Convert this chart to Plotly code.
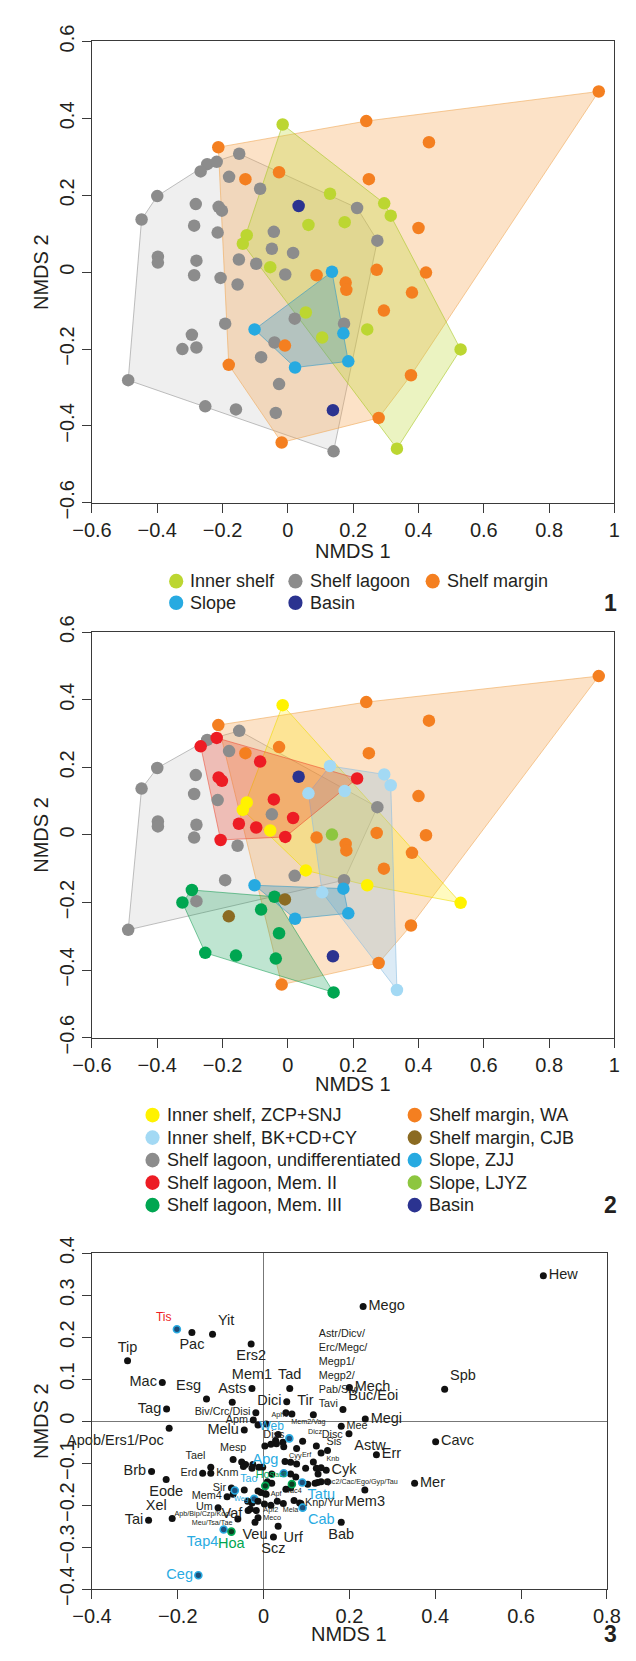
import plotly.graph_objects as go

W, H = 636, 1661
FONT = "Liberation Sans Narrow, Arial Narrow, Liberation Sans, Arial, sans-serif"
TXT = "#231f20"

# ---------------- Panels 1 & 2 : samples ----------------
inner_zcp_x = [-0.016, -0.126, -0.138, -0.054, 0.055, 0.243, 0.529]
inner_zcp_y = [0.384, 0.096, 0.074, 0.013, -0.105, -0.149, -0.201]
inner_bk_x = [0.129, 0.295, 0.315, 0.063, 0.174, 0.105, 0.334]
inner_bk_y = [0.204, 0.179, 0.147, 0.123, 0.130, -0.170, -0.459]

lagoon_undiff_x = [-0.149, -0.247, -0.180, -0.400, -0.282, -0.448, -0.287, -0.215, 0.274, -0.049,
                   -0.398, -0.398, -0.280, -0.287, -0.154, 0.021, -0.192, 0.172, -0.280, -0.489]
lagoon_undiff_y = [0.308, 0.281, 0.248, 0.198, 0.177, 0.137, 0.121, 0.103, 0.082, 0.061,
                   0.040, 0.025, 0.030, -0.008, -0.032, -0.121, -0.134, -0.134, -0.196, -0.281]
lagoon_mem2_x = [-0.218, -0.267, -0.085, -0.212, -0.202, 0.212, -0.043, 0.016, -0.150, -0.097, -0.206, -0.008]
lagoon_mem2_y = [0.287, 0.262, 0.217, 0.170, 0.160, 0.167, 0.105, 0.050, 0.033, 0.022, -0.015, -0.006]
lagoon_mem3_x = [-0.294, -0.323, -0.041, -0.082, -0.027, -0.253, -0.159, -0.037, 0.140]
lagoon_mem3_y = [-0.163, -0.200, -0.183, -0.221, -0.291, -0.349, -0.357, -0.366, -0.466]

margin_wa_x = [0.952, 0.240, 0.432, -0.213, -0.027, -0.130, 0.248, 0.400, 0.272, 0.423,
               0.088, 0.177, 0.179, 0.380, 0.294, 0.377, 0.278, -0.019]
margin_wa_y = [0.470, 0.393, 0.338, 0.325, 0.260, 0.242, 0.242, 0.115, 0.006, -0.001,
               -0.008, -0.027, -0.046, -0.053, -0.100, -0.268, -0.379, -0.443]
margin_cjb_x = [-0.009, -0.181]
margin_cjb_y = [-0.191, -0.241]

slope_zjj_x = [-0.102, 0.170, 0.185, 0.022]
slope_zjj_y = [-0.149, -0.159, -0.232, -0.248]
slope_ljyz_x = [0.135]
slope_ljyz_y = [0.001]

basin_x = [0.033, 0.138]
basin_y = [0.172, -0.359]

# ---------------- Panel 3 : taxa ----------------
taxa_names = ["Hew", "Mego", "Tis", "Pac", "Yit", "Ers2", "Tip", "Mac", "Esg", "Asts", "Tag",
              "Apob/Ers1/Poc", "Mem1", "Tad", "Astr/Dicv/Erc/Megc/Megp1/Megp2/Pab/Siv/Tavi",
              "Mech", "Buc/Eoi", "Megi", "Mee", "Astw", "Err", "Spb", "Cavc", "Mer", "Mem3",
              "Cyk", "Bab", "Dici", "Tir", "Biv/Crc/Disi", "Apm", "Diss", "Aph1", "Mem2/Vag",
              "Melu", "Web", "Dicz", "Disc", "Sis", "Cyy", "Apg", "Erf", "Knb", "Mesp", "Tael",
              "Erd", "Knm", "Sir", "Tao", "Weg", "Hos", "Tac3", "Tatu", "Mem4", "Um", "Vaf",
              "Apf", "Tac4", "Apf2", "Mela", "Knp/Yur", "Cab", "Meco",
              "Apb/Bip/Czp/Kocl/Meu/Tsa/Tae", "Xel", "Tai", "Eode", "Brb", "Tap4", "Hoa",
              "Veu", "Urf", "Scz", "Ceg", "Apc2/Cac/Ego/Gyp/Tau"]
taxa_x = [0.652, 0.232, -0.202, -0.167, -0.119, -0.029, -0.317, -0.236, -0.133, -0.073, -0.226,
          -0.220, -0.027, 0.061, 0.116,
          0.200, 0.185, 0.237, 0.181, 0.199, 0.263, 0.422, 0.401, 0.352, 0.236,
          0.146, 0.181, 0.054, 0.066, -0.018, -0.024, -0.013, 0.006, 0.052,
          -0.045, 0.060, 0.091, 0.123, 0.134, 0.047, 0.047, 0.077, 0.134, -0.071, -0.123,
          -0.142, -0.123, -0.075, -0.067, -0.022, 0.004, 0.066, 0.090, -0.085, -0.106, -0.037,
          0.004, 0.071, -0.013, 0.032, 0.084, 0.091, -0.013,
          -0.060, -0.213, -0.268, -0.227, -0.261, -0.093, -0.075,
          -0.020, 0.034, 0.023, -0.152, 0.126]
taxa_y = [0.346, 0.273, 0.219, 0.211, 0.207, 0.184, 0.144, 0.092, 0.053, 0.045, 0.029,
          -0.017, 0.078, 0.078, 0.015,
          0.080, 0.028, 0.005, -0.012, -0.030, -0.080, 0.076, -0.049, -0.148, -0.164,
          -0.117, -0.241, 0.046, 0.017, 0.020, 0.003, -0.009, -0.007, 0.020,
          -0.021, -0.041, -0.048, -0.059, -0.076, -0.061, -0.124, -0.102, -0.111, -0.091, -0.110,
          -0.124, -0.124, -0.159, -0.165, -0.185, -0.154, -0.150, -0.146, -0.180, -0.206, -0.191,
          -0.173, -0.189, -0.191, -0.191, -0.195, -0.206, -0.230,
          -0.233, -0.232, -0.236, -0.139, -0.120, -0.258, -0.263,
          -0.241, -0.250, -0.276, -0.367, -0.146]
blue_taxa = ["Web", "Apg", "Tao", "Weg", "Tatu", "Cab", "Tap4", "Ceg"]
green_taxa = ["Hos", "Tac3", "Hoa"]
red_taxa = ["Tis"]

other_x = [0.028, 0.034, 0.045, 0.030, 0.077, 0.149, -0.051, -0.042, -0.047, -0.025, -0.027,
           -0.011, -0.002, 0.050, 0.063, 0.063, 0.075, 0.098, 0.116, 0.123, 0.127, 0.019,
           0.149, 0.134, 0.120, 0.103, 0.063, 0.052, 0.009, 0.019, -0.013, -0.006, -0.027,
           -0.031, -0.017, 0.002, 0.003, 0.017, 0.087, 0.017, 0.046, -0.036, -0.045, -0.071,
           0.006]
other_y = [-0.046, -0.032, -0.050, -0.054, -0.065, -0.070, -0.097, -0.103, -0.108, -0.103, -0.112,
           -0.110, -0.110, -0.096, -0.098, -0.126, -0.133, -0.112, -0.097, -0.112, -0.126, -0.126,
           -0.144, -0.144, -0.148, -0.150, -0.159, -0.162, -0.144, -0.148, -0.166, -0.170, -0.195,
           -0.209, -0.213, -0.197, -0.059, -0.055, -0.196, -0.200, -0.196, -0.213, -0.164, -0.174,
           -0.174]

# tick labels
p12_xticks = [-0.6, -0.4, -0.2, 0, 0.2, 0.4, 0.6, 0.8, 1]
p12_yticks = [-0.6, -0.4, -0.2, 0, 0.2, 0.4, 0.6]
p3_xticks = [-0.4, -0.2, 0, 0.2, 0.4, 0.6, 0.8]
p3_yticks = [-0.4, -0.3, -0.2, -0.1, 0, 0.1, 0.2, 0.3, 0.4]

legend1 = ["Inner shelf", "Shelf lagoon", "Shelf margin", "Slope", "Basin"]
legend2 = ["Inner shelf, ZCP+SNJ", "Inner shelf, BK+CD+CY", "Shelf lagoon, undifferentiated",
           "Shelf lagoon, Mem. II", "Shelf lagoon, Mem. III", "Shelf margin, WA",
           "Shelf margin, CJB", "Slope, ZJJ", "Slope, LJYZ", "Basin"]

# ---------------- styles ----------------
C = {
    "inner": "#bcd631", "lagoon": "#8c8c8c", "margin": "#f47f20", "slope": "#27aae1",
    "basin": "#2b3390", "zcp": "#fff200", "bk": "#a3d9f4", "mem2": "#ed1c24",
    "mem3": "#00a651", "cjb": "#8b6b22", "ljyz": "#8dc63f",
}
FILL = {
    "inner": "rgba(188,214,49,0.30)", "lagoon": "rgba(150,150,150,0.15)",
    "margin": "rgba(246,165,80,0.32)", "slope": "rgba(39,150,200,0.30)",
    "zcp": "rgba(255,235,0,0.25)", "bk": "rgba(140,190,225,0.30)",
    "mem2": "rgba(237,60,36,0.28)", "mem3": "rgba(0,150,70,0.25)",
}
EDGE = {
    "inner": "rgba(170,200,40,0.6)", "lagoon": "rgba(140,140,140,0.55)",
    "margin": "rgba(240,170,90,0.6)", "slope": "rgba(39,150,200,0.55)",
    "zcp": "rgba(240,220,0,0.6)", "bk": "rgba(140,190,225,0.6)",
    "mem2": "rgba(237,60,36,0.5)", "mem3": "rgba(0,150,70,0.5)",
}

LBL_POS = {
    "Hew": "middle right", "Mego": "middle right", "Tis": "top left", "Pac": "bottom center",
    "Yit": "top right", "Ers2": "bottom center", "Tip": "top center", "Mac": "middle left",
    "Esg": "top left", "Asts": "top center", "Tag": "middle left", "Apob/Ers1/Poc": "bottom left",
    "Mem1": "top center", "Tad": "top center",
    "Astr/Dicv/Erc/Megc/Megp1/Megp2/Pab/Siv/Tavi": "top right",
    "Mech": "middle right", "Buc/Eoi": "top right", "Megi": "middle right", "Mee": "middle right",
    "Astw": "bottom right", "Err": "middle right", "Spb": "top right", "Cavc": "middle right",
    "Mer": "middle right", "Mem3": "bottom center", "Cyk": "middle right", "Bab": "bottom center",
    "Dici": "middle left", "Tir": "top right", "Biv/Crc/Disi": "middle left", "Apm": "middle left",
    "Diss": "bottom right", "Aph1": "top right", "Mem2/Vag": "bottom right", "Melu": "middle left",
    "Web": "top left", "Dicz": "top right", "Disc": "top right", "Sis": "top right",
    "Cyy": "bottom right", "Apg": "top left", "Erf": "top right", "Knb": "top right",
    "Mesp": "top center", "Tael": "top left", "Erd": "middle left", "Knm": "middle right",
    "Sir": "middle left", "Tao": "top right", "Weg": "middle left", "Hos": "top center",
    "Tac3": "top left", "Tatu": "bottom right", "Mem4": "middle left", "Um": "middle left",
    "Vaf": "bottom left", "Apf": "middle right", "Tac4": "top center", "Apf2": "bottom right",
    "Mela": "bottom right", "Knp/Yur": "middle right", "Cab": "bottom right",
    "Meco": "middle right", "Apb/Bip/Czp/Kocl/Meu/Tsa/Tae": "middle left", "Xel": "top left",
    "Tai": "middle left", "Eode": "bottom center", "Brb": "middle left", "Tap4": "bottom left",
    "Hoa": "bottom center", "Veu": "bottom center", "Urf": "bottom right", "Scz": "bottom center",
    "Ceg": "middle left", "Apc2/Cac/Ego/Gyp/Tau": "middle right",
}
LBL_TEXT = {
    "Astr/Dicv/Erc/Megc/Megp1/Megp2/Pab/Siv/Tavi":
        "Astr/Dicv/<br>Erc/Megc/<br>Megp1/<br>Megp2/<br>Pab/Siv/<br>Tavi",
    "Apb/Bip/Czp/Kocl/Meu/Tsa/Tae": "Apb/Bip/Czp/Kocl/<br>Meu/Tsa/Tae",
}
MED = {"Astr/Dicv/Erc/Megc/Megp1/Megp2/Pab/Siv/Tavi", "Biv/Crc/Disi", "Apm", "Diss", "Mee",
       "Disc", "Sis", "Mesp", "Tael", "Erd", "Knm", "Sir", "Tao", "Hos", "Mem4", "Um",
       "Knp/Yur"}
MEDL = {"Web", "Tis"}
SMALL = {"Aph1", "Mem2/Vag", "Dicz", "Cyy", "Erf", "Knb", "Weg", "Tac3", "Apf", "Tac4", "Apf2",
         "Mela", "Meco", "Apb/Bip/Czp/Kocl/Meu/Tsa/Tae", "Apc2/Cac/Ego/Gyp/Tau"}
SZ_L, SZ_ML, SZ_M, SZ_S = 14.5, 12, 10.8, 7.2


def hull(xs, ys):
    pts = sorted(set(zip(xs, ys)))
    if len(pts) < 3:
        return None

    def cross(o, a, b):
        return (a[0] - o[0]) * (b[1] - o[1]) - (a[1] - o[1]) * (b[0] - o[0])
    lower, upper = [], []
    for p in pts:
        while len(lower) >= 2 and cross(lower[-2], lower[-1], p) <= 0:
            lower.pop()
        lower.append(p)
    for p in reversed(pts):
        while len(upper) >= 2 and cross(upper[-2], upper[-1], p) <= 0:
            upper.pop()
        upper.append(p)
    h = lower[:-1] + upper[:-1]
    h.append(h[0])
    return [p[0] for p in h], [p[1] for p in h]


fig = go.Figure()


def add_hull(xs, ys, key, ax):
    r = hull(xs, ys)
    if r is None:
        return
    fig.add_trace(go.Scatter(x=r[0], y=r[1], mode="lines", fill="toself",
                             fillcolor=FILL[key], line=dict(color=EDGE[key], width=1),
                             xaxis="x" + ax, yaxis="y" + ax, hoverinfo="skip", showlegend=False))


def add_pts(xs, ys, color, ax):
    fig.add_trace(go.Scatter(x=xs, y=ys, mode="markers",
                             marker=dict(color=color, size=12.5, line=dict(width=0)),
                             xaxis="x" + ax, yaxis="y" + ax, showlegend=False))


# Panel 1
inner_x, inner_y = inner_zcp_x + inner_bk_x, inner_zcp_y + inner_bk_y
lagoon_x = lagoon_undiff_x + lagoon_mem2_x + lagoon_mem3_x
lagoon_y = lagoon_undiff_y + lagoon_mem2_y + lagoon_mem3_y
margin_x, margin_y = margin_wa_x + margin_cjb_x, margin_wa_y + margin_cjb_y
slope_x, slope_y = slope_zjj_x + slope_ljyz_x, slope_zjj_y + slope_ljyz_y

add_hull(lagoon_x, lagoon_y, "lagoon", "")
add_hull(margin_x, margin_y, "margin", "")
add_hull(inner_x, inner_y, "inner", "")
add_hull(slope_x, slope_y, "slope", "")
add_pts(lagoon_x, lagoon_y, C["lagoon"], "")
add_pts(inner_x, inner_y, C["inner"], "")
add_pts(margin_x, margin_y, C["margin"], "")
add_pts(slope_x, slope_y, C["slope"], "")
add_pts(basin_x, basin_y, C["basin"], "")

# Panel 2
add_hull(lagoon_undiff_x, lagoon_undiff_y, "lagoon", "2")
add_hull(margin_wa_x, margin_wa_y, "margin", "2")
add_hull(inner_zcp_x, inner_zcp_y, "zcp", "2")
add_hull(inner_bk_x, inner_bk_y, "bk", "2")
add_hull(lagoon_mem2_x, lagoon_mem2_y, "mem2", "2")
add_hull(lagoon_mem3_x, lagoon_mem3_y, "mem3", "2")
add_hull(slope_zjj_x, slope_zjj_y, "slope", "2")
add_pts(lagoon_undiff_x, lagoon_undiff_y, C["lagoon"], "2")
add_pts(lagoon_mem2_x, lagoon_mem2_y, C["mem2"], "2")
add_pts(lagoon_mem3_x, lagoon_mem3_y, C["mem3"], "2")
add_pts(inner_zcp_x, inner_zcp_y, C["zcp"], "2")
add_pts(inner_bk_x, inner_bk_y, C["bk"], "2")
add_pts(margin_wa_x, margin_wa_y, C["margin"], "2")
add_pts(margin_cjb_x, margin_cjb_y, C["cjb"], "2")
add_pts(slope_zjj_x, slope_zjj_y, C["slope"], "2")
add_pts(slope_ljyz_x, slope_ljyz_y, C["ljyz"], "2")
add_pts(basin_x, basin_y, C["basin"], "2")

# Panel 3
fig.add_trace(go.Scatter(x=other_x, y=other_y, mode="markers",
                         marker=dict(color="#111111", size=7), xaxis="x3", yaxis="y3",
                         showlegend=False))
mcol, lcol, lw, tcol, tsz, tpos, ttxt = [], [], [], [], [], [], []
for n in taxa_names:
    if n in blue_taxa or n in red_taxa:
        mcol.append("#1d4f7a"); lcol.append("#29abe2"); lw.append(1.6)
    elif n in green_taxa:
        mcol.append("#0b3d22"); lcol.append("#00a651"); lw.append(1.6)
    else:
        mcol.append("#111111"); lcol.append("#111111"); lw.append(0)
    if n in blue_taxa:
        tcol.append("#29abe2")
    elif n in green_taxa:
        tcol.append("#00a651")
    elif n in red_taxa:
        tcol.append("#ed1c24")
    else:
        tcol.append(TXT)
    tsz.append(SZ_S if n in SMALL else SZ_M if n in MED else SZ_ML if n in MEDL else SZ_L)
    tpos.append(LBL_POS[n])
    ttxt.append(LBL_TEXT.get(n, n))
fig.add_trace(go.Scatter(x=taxa_x, y=taxa_y, mode="markers+text", text=ttxt,
                         textposition=tpos,
                         textfont=dict(family=FONT, size=tsz, color=tcol),
                         marker=dict(color=mcol, size=7, line=dict(color=lcol, width=lw)),
                         xaxis="x3", yaxis="y3", showlegend=False, cliponaxis=False))

# ---------------- layout ----------------
L_PX = 76
panels = {"": (25, 496, 628), "2": (628, 1042, 628), "3": (1262, 1605, 620)}


def fx(px):
    return px / W


def fy(py):
    return 1 - py / H


def fmt(v):
    s = ("%g" % v)
    return s.replace("-", "\u2212")


axis_common = dict(showline=True, mirror=True, linecolor="#3a3a3a", linewidth=1.3,
                   ticks="outside", ticklen=9, tickwidth=1.3, tickcolor="#3a3a3a",
                   showgrid=False, tickfont=dict(family=FONT, size=20, color=TXT))
layout = dict(width=W, height=H, margin=dict(l=0, r=0, t=0, b=0),
              paper_bgcolor="white", plot_bgcolor="white", showlegend=False)
for key, (top, bot, right) in panels.items():
    xt = p3_xticks if key == "3" else p12_xticks
    yt = p3_yticks if key == "3" else p12_yticks
    xr = [-0.4, 0.8] if key == "3" else [-0.6, 1.0]
    yr = [-0.4, 0.4] if key == "3" else [-0.6, 0.6]
    layout["xaxis" + key] = dict(axis_common, domain=[fx(L_PX), fx(right)], range=xr,
                                 tickvals=xt, ticktext=[fmt(v) for v in xt],
                                 anchor="y" + key, zeroline=(key == "3"),
                                 zerolinecolor="#777777", zerolinewidth=1.2)
    layout["yaxis" + key] = dict(axis_common, domain=[fy(bot), fy(top)], range=yr,
                                 tickvals=yt, ticktext=[fmt(v) for v in yt], tickangle=-90,
                                 anchor="x" + key, zeroline=(key == "3"),
                                 zerolinecolor="#777777", zerolinewidth=1.2)
fig.update_layout(**layout)

ann = []
shapes = []
title_y = {"": 545, "2": 1089, "3": 1651}
for key, (top, bot, right) in panels.items():
    ann.append(dict(text="NMDS 1", x=fx((L_PX + right) / 2), y=fy(title_y[key]),
                    xref="paper", yref="paper", showarrow=False, xanchor="center",
                    yanchor="middle", font=dict(family=FONT, size=20, color=TXT)))
    ann.append(dict(text="NMDS 2", x=fx(22), y=fy((top + bot) / 2), xref="paper",
                    yref="paper", showarrow=False, xanchor="center", yanchor="middle",
                    textangle=-90, font=dict(family=FONT, size=20, color=TXT)))


def legend_item(cx, cy, color, label):
    r = 7.5
    shapes.append(dict(type="circle", xref="paper", yref="paper", x0=fx(cx - r), x1=fx(cx + r),
                       y0=fy(cy + r), y1=fy(cy - r), fillcolor=color, line=dict(width=0)))
    ann.append(dict(text=label, x=fx(cx + 13), y=fy(cy), xref="paper", yref="paper",
                    showarrow=False, xanchor="left", yanchor="middle",
                    font=dict(family=FONT, size=18, color=TXT)))


leg1_cols = [C["inner"], C["lagoon"], C["margin"], C["slope"], C["basin"]]
leg1_pos = [(165, 576), (291, 576), (436, 576), (165, 598), (291, 598)]
for (cx, cy), col, lab in zip(leg1_pos, leg1_cols, legend1):
    legend_item(cx, cy, col, lab)

leg2_cols = [C["zcp"], C["bk"], C["lagoon"], C["mem2"], C["mem3"], C["margin"], C["cjb"],
             C["slope"], C["ljyz"], C["basin"]]
rows = [1121, 1144, 1167, 1190, 1213]
leg2_pos = [(140, r) for r in rows] + [(417, r) for r in rows]
for (cx, cy), col, lab in zip(leg2_pos, leg2_cols, legend2):
    legend_item(cx, cy, col, lab)

for num, py in (("1", 598), ("2", 1213), ("3", 1651)):
    ann.append(dict(text="<b>%s</b>" % num, x=fx(633), y=fy(py), xref="paper", yref="paper",
                    showarrow=False, xanchor="right", yanchor="middle",
                    font=dict(family=FONT, size=23, color=TXT)))

fig.update_layout(annotations=ann, shapes=shapes)
fig.write_html("out.html", config={"displayModeBar": False},
               post_script="document.body.style.margin='0';document.body.style.overflow='hidden';")
